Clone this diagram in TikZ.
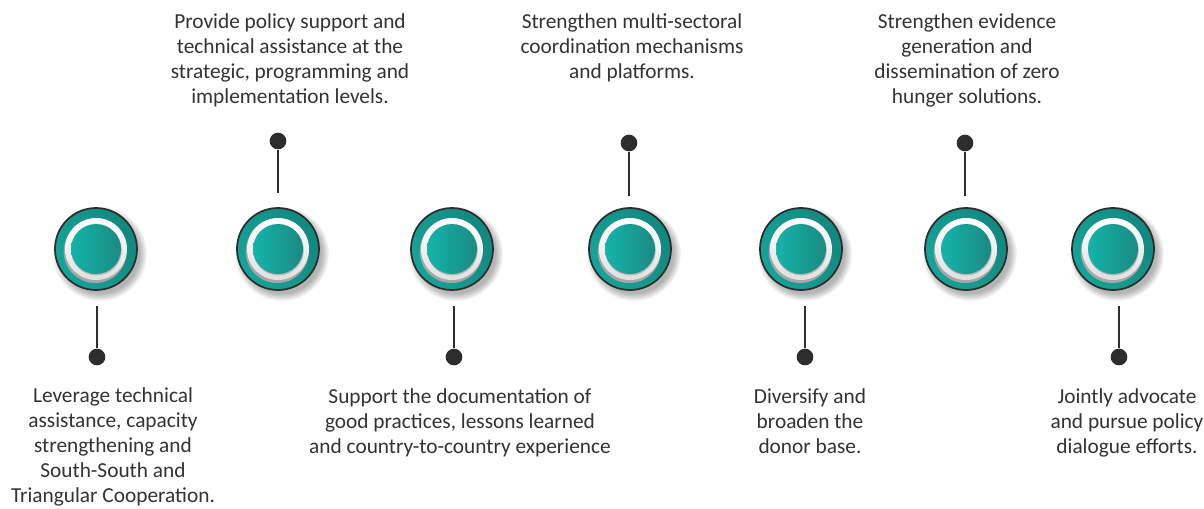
\documentclass[tikz,border=0pt]{standalone}
\usepackage{fontspec}
\setmainfont{Carlito}
\definecolor{txt}{HTML}{333333}
\definecolor{pin}{HTML}{2D2D2D}
\definecolor{tealA}{HTML}{15A49A}
\definecolor{tealB}{HTML}{12877F}
\definecolor{tealL}{HTML}{13B4A9}
\definecolor{tealD}{HTML}{1B8A82}
\tikzset{
  lbl/.style={font=\fontsize{16}{18.8}\selectfont, text=txt, align=center, inner sep=0pt, anchor=north},
  pindot/.style={circle, fill=pin, inner sep=0pt, minimum size=12.5pt},
  pinline/.style={draw=pin, line width=1.6pt},
  orbnode/.style={circle, inner sep=0pt, minimum size=61.5pt},
}
\newcommand{\orb}[3]{%
  % #1 name, #2 x, #3 y
  \foreach \k in {1,...,9}{
    \fill[black, opacity=0.035] (#2+4,#3+5) circle [radius=39+\k*0.9];
  }
  \node[orbnode, draw=pin, line width=1.3pt, left color=tealA, right color=tealB, shading angle=120] (#1) at (#2,#3) {};
  \fill[gray!70] (#2-0.8,#3+2.5) circle [radius=31.5];
  \shade[top color=white, bottom color=white!88!black] (#2,#3) circle [radius=31];
  \fill[gray!55] (#2+0.5,#3+1.2) circle [radius=25.3];
  \shade[left color=tealL, right color=tealD] (#2,#3) circle [radius=25];
}
\begin{document}
\begin{tikzpicture}[x=0.75pt, y=-0.75pt]
\useasboundingbox (0,0) rectangle (1204,508);
\fill[white] (0,0) rectangle (1204,508);

\orb{c1}{96}{249}
\orb{c2}{278}{249}
\orb{c3}{452}{249}
\orb{c4}{630}{249}
\orb{c5}{801}{249}
\orb{c6}{966}{249}
\orb{c7}{1113}{249}

% bottom pins
\node[pindot] (p1) at (97,357) {};
\coordinate (e1) at (97,306);
\draw[pinline] (p1) -- (e1);
\node[pindot] (p3) at (454,357) {};
\coordinate (e3) at (454,306);
\draw[pinline] (p3) -- (e3);
\node[pindot] (p5) at (805,357) {};
\coordinate (e5) at (805,306);
\draw[pinline] (p5) -- (e5);
\node[pindot] (p7) at (1119,357) {};
\coordinate (e7) at (1119,306);
\draw[pinline] (p7) -- (e7);
% top pins
\node[pindot] (p2) at (278,141) {};
\coordinate (e2) at (278,193);
\draw[pinline] (p2) -- (e2);
\node[pindot] (p4) at (629,143) {};
\coordinate (e4) at (629,196);
\draw[pinline] (p4) -- (e4);
\node[pindot] (p6) at (965,143) {};
\coordinate (e6) at (965,196);
\draw[pinline] (p6) -- (e6);

% texts
\node[lbl] (t2) at (290,13) {Provide policy support and\\technical assistance at the\\strategic, programming and\\implementation levels.};
\node[lbl] (t4) at (632,13) {Strengthen multi-sectoral\\coordination mechanisms\\and platforms.};
\node[lbl] (t6) at (967,13) {Strengthen evidence\\generation and\\dissemination of zero\\hunger solutions.};
\node[lbl] (t1) at (113,387) {Leverage technical\\assistance, capacity\\strengthening and\\South-South and\\Triangular Cooperation.};
\node[lbl] (t3) at (460,388) {Support the documentation of\\good practices, lessons learned\\and country-to-country experience};
\node[lbl] (t5) at (810,388) {Diversify and\\broaden the\\donor base.};
\node[lbl] (t7) at (1127,388) {Jointly advocate\\and pursue policy\\dialogue efforts.};
\end{tikzpicture}
\end{document}
